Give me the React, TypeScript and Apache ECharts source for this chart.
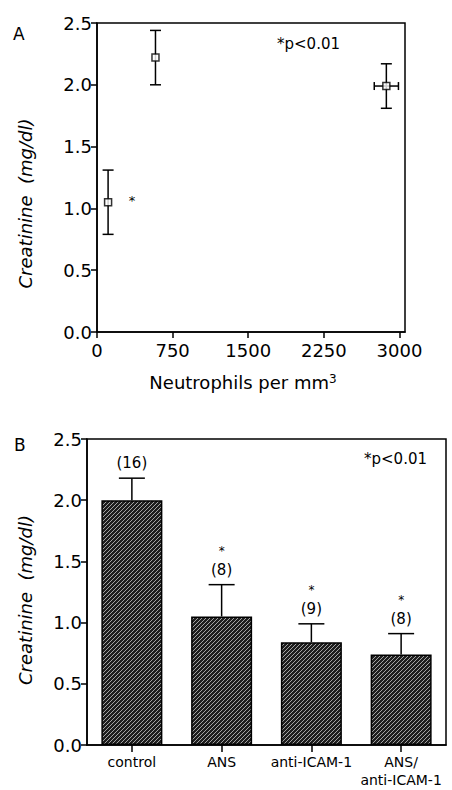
import React, { useEffect, useRef } from "react";
import * as echarts from "echarts";

// Panel A data
const neutrophils = [110, 580, 2870];
const neutrophilsErr = [0, 0, 120];
const creatinineA = [1.05, 2.22, 1.99];
const creatinineAErr = [0.26, 0.22, 0.18];
const aSignificance = ["*", "", ""];
const xTicksA = [0, 750, 1500, 2250, 3000];

// Panel B data
const groups = ["control", "ANS", "anti-ICAM-1", "ANS/\nanti-ICAM-1"];
const creatinineB = [2.0, 1.05, 0.84, 0.74];
const creatinineBErr = [0.18, 0.26, 0.15, 0.17];
const nCounts = [16, 8, 9, 8];
const bSignificance = ["", "*", "*", "*"];

const FONT = "DejaVu Sans";

function makeHatch() {
  const tile = document.createElement("canvas");
  tile.width = 4;
  tile.height = 4;
  const ctx = tile.getContext("2d")!;
  ctx.fillStyle = "#1e1e1e";
  ctx.fillRect(0, 0, 4, 4);
  ctx.fillStyle = "#a4a4a4";
  for (let k = 0; k < 4; k++) ctx.fillRect(k, 3 - k, 1, 1);
  return tile;
}

export default function App() {
  const ref = useRef<HTMLDivElement>(null);

  useEffect(() => {
    document.body.style.margin = "0";
    const chart = echarts.init(ref.current!, null, { renderer: "svg" });
    const hatch = makeHatch();

    const axisCommon = {
      axisLine: { show: true, lineStyle: { color: "#000", width: 1.5 } },
      axisTick: { show: true, inside: false, length: 6, lineStyle: { color: "#000", width: 1.5 } },
      splitLine: { show: false },
    };

    const option: any = {
      animation: false,
      backgroundColor: "#fff",
      textStyle: { fontFamily: FONT, color: "#000" },
      grid: [
        {
          left: 97, right: 47, top: 23, bottom: 458,
          show: true, borderColor: "#000", borderWidth: 1.5, backgroundColor: "transparent",
          containLabel: false, outerBoundsMode: "none",
        },
        {
          left: 87, right: 6, top: 439, bottom: 45,
          show: true, borderColor: "#000", borderWidth: 1.5, backgroundColor: "transparent",
          containLabel: false, outerBoundsMode: "none",
        },
      ],
      xAxis: [
        {
          type: "value", gridIndex: 0, min: 0, max: 3055,
          ...axisCommon,
          axisTick: { ...axisCommon.axisTick, customValues: xTicksA },
          axisLabel: {
            customValues: xTicksA, color: "#000", fontFamily: FONT, fontSize: 18, margin: 9,
            formatter: (v: number) => String(v),
          },
          name: "Neutrophils per mm{sup|3}",
          nameLocation: "middle",
          nameGap: 41,
          nameTextStyle: {
            fontFamily: FONT, fontSize: 18, color: "#000", padding: [0, 16, 0, 0],
            rich: { sup: { fontFamily: FONT, fontSize: 12, verticalAlign: "top", color: "#000" } },
          },
        },
        {
          type: "category", gridIndex: 1, data: groups,
          ...axisCommon,
          axisTick: { ...axisCommon.axisTick, alignWithLabel: true, length: 7 },
          axisLabel: { color: "#000", fontFamily: FONT, fontSize: 14, margin: 8, lineHeight: 18, interval: 0 },
        },
      ],
      yAxis: [
        {
          type: "value", gridIndex: 0, min: 0, max: 2.5, interval: 0.5,
          ...axisCommon,
          axisLabel: { color: "#000", fontFamily: FONT, fontSize: 18, margin: 5, formatter: (v: number) => v.toFixed(1) },
          name: "Creatinine  (mg/dl)",
          nameLocation: "middle",
          nameRotate: 90,
          nameGap: 63,
          nameTextStyle: { fontFamily: FONT, fontSize: 18, fontStyle: "italic", color: "#000", padding: [0, 52, 0, 0] },
        },
        {
          type: "value", gridIndex: 1, min: 0, max: 2.5, interval: 0.5,
          ...axisCommon,
          axisLabel: { color: "#000", fontFamily: FONT, fontSize: 18, margin: 5, formatter: (v: number) => v.toFixed(1) },
          name: "Creatinine  (mg/dl)",
          nameLocation: "middle",
          nameRotate: 90,
          nameGap: 53,
          nameTextStyle: { fontFamily: FONT, fontSize: 18, fontStyle: "italic", color: "#000", padding: [0, 16, 0, 0] },
        },
      ],
      series: [
        {
          type: "custom",
          xAxisIndex: 0, yAxisIndex: 0, z: 2,
          encode: { x: 0, y: 1 },
          data: neutrophils.map((x, i) => [x, creatinineA[i], neutrophilsErr[i], creatinineAErr[i]]),
          renderItem: (params: any, api: any) => {
            const x = api.value(0), y = api.value(1), ex = api.value(2), ey = api.value(3);
            const c = api.coord([x, y]);
            const top = api.coord([x, y + ey]);
            const bot = api.coord([x, y - ey]);
            const st = { stroke: "#000", lineWidth: 1.5 };
            const children: any[] = [
              { type: "line", shape: { x1: c[0], y1: top[1], x2: c[0], y2: bot[1] }, style: st },
              { type: "line", shape: { x1: c[0] - 5.5, y1: top[1], x2: c[0] + 5.5, y2: top[1] }, style: st },
              { type: "line", shape: { x1: c[0] - 5.5, y1: bot[1], x2: c[0] + 5.5, y2: bot[1] }, style: st },
            ];
            if (ex > 0) {
              const l = api.coord([x - ex, y]);
              const r = api.coord([x + ex, y]);
              children.push(
                { type: "line", shape: { x1: l[0], y1: c[1], x2: r[0], y2: c[1] }, style: st },
                { type: "line", shape: { x1: l[0], y1: c[1] - 4, x2: l[0], y2: c[1] + 4 }, style: st },
                { type: "line", shape: { x1: r[0], y1: c[1] - 4, x2: r[0], y2: c[1] + 4 }, style: st },
              );
            }
            const sig = aSignificance[params.dataIndex];
            if (sig) {
              children.push({
                type: "text",
                style: { text: sig, x: c[0] + 24, y: c[1] - 2, fontFamily: FONT, fontSize: 13, fill: "#000", align: "center", verticalAlign: "middle" },
              });
            }
            return { type: "group", children };
          },
        },
        {
          type: "scatter",
          xAxisIndex: 0, yAxisIndex: 0, z: 3,
          symbol: "rect", symbolSize: 7,
          itemStyle: { color: "#fff", borderColor: "#000", borderWidth: 1.5 },
          data: neutrophils.map((x, i) => [x, creatinineA[i]]),
        },
        {
          type: "bar",
          xAxisIndex: 1, yAxisIndex: 1, z: 2,
          barWidth: 61,
          data: creatinineB,
          itemStyle: {
            color: { image: hatch, repeat: "repeat", imageWidth: 4, imageHeight: 4 },
            borderColor: "#000",
            borderWidth: 1.5,
          },
        },
        {
          type: "custom",
          xAxisIndex: 1, yAxisIndex: 1, z: 3,
          encode: { x: 0, y: 1 },
          data: groups.map((g, i) => [i, creatinineB[i], creatinineBErr[i]]),
          renderItem: (params: any, api: any) => {
            const i = api.value(0), v = api.value(1), e = api.value(2);
            const base = api.coord([i, v]);
            const top = api.coord([i, v + e]);
            const st = { stroke: "#000", lineWidth: 1.5 };
            const children: any[] = [
              { type: "line", shape: { x1: base[0], y1: base[1], x2: base[0], y2: top[1] }, style: st },
              { type: "line", shape: { x1: base[0] - 13, y1: top[1], x2: base[0] + 13, y2: top[1] }, style: st },
              {
                type: "text",
                style: { text: "(" + nCounts[params.dataIndex] + ")", x: base[0], y: top[1] - 15, fontFamily: FONT, fontSize: 15, fill: "#000", align: "center", verticalAlign: "middle" },
              },
            ];
            const sig = bSignificance[params.dataIndex];
            if (sig) {
              children.push({
                type: "text",
                style: { text: sig, x: base[0], y: top[1] - 34, fontFamily: FONT, fontSize: 12, fill: "#000", align: "center", verticalAlign: "middle" },
              });
            }
            return { type: "group", children };
          },
        },
      ],
      graphic: [
        { type: "text", left: 13, top: 25, style: { text: "A", fontFamily: FONT, fontSize: 17, fill: "#000" } },
        { type: "text", left: 277, top: 36, style: { text: "*p<0.01", fontFamily: FONT, fontSize: 15, fill: "#000" } },
        { type: "text", left: 14, top: 436, style: { text: "B", fontFamily: FONT, fontSize: 17, fill: "#000" } },
        { type: "text", left: 364, top: 451, style: { text: "*p<0.01", fontFamily: FONT, fontSize: 15, fill: "#000" } },
      ],
    };

    chart.setOption(option);
    return () => chart.dispose();
  }, []);

  return <div ref={ref} style={{ width: 452, height: 790 }} />;
}
